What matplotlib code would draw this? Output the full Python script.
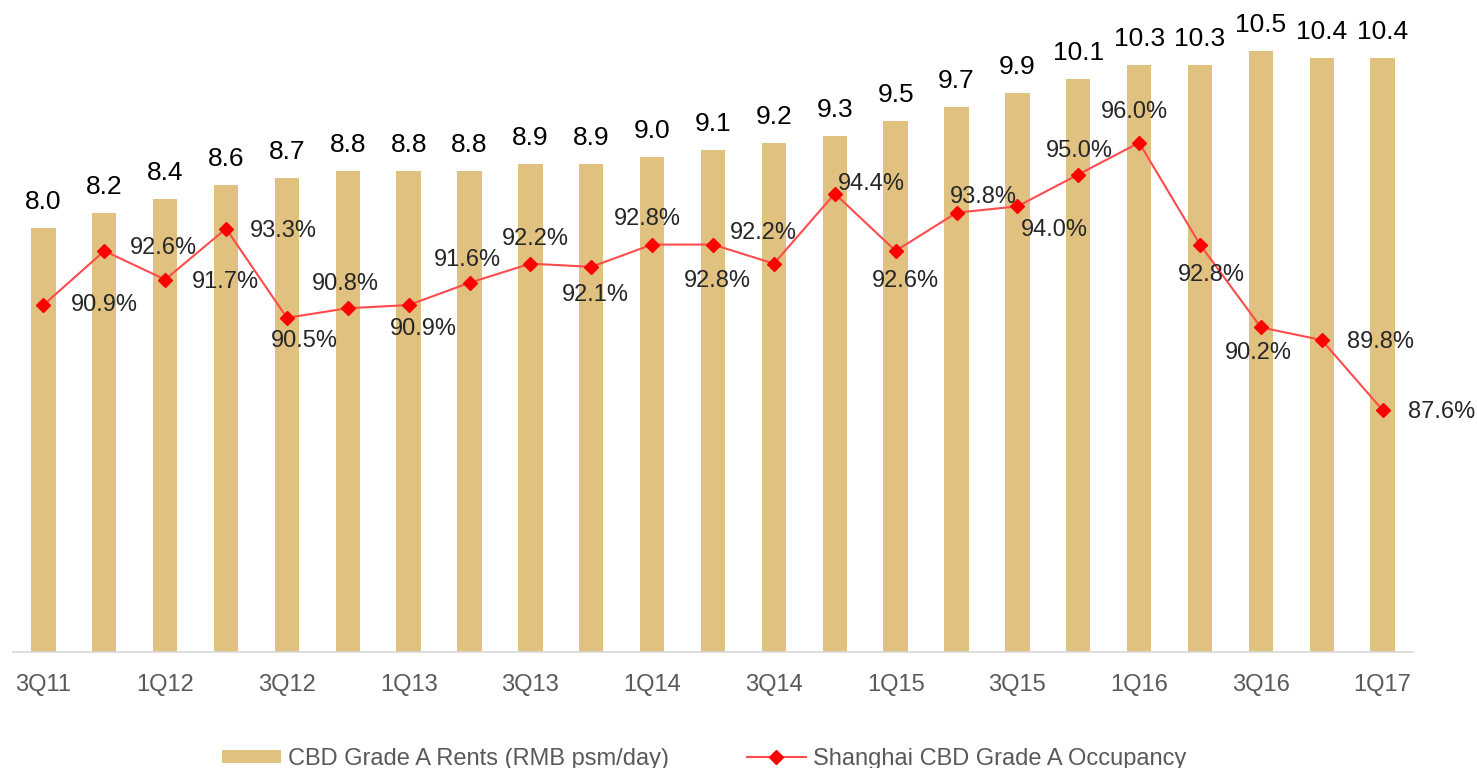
import matplotlib.pyplot as plt
import numpy as np

plt.rcParams['font.family'] = ['Liberation Sans', 'DejaVu Sans']

# quarters 3Q11 .. 1Q17
quarters = ["3Q11", "4Q11", "1Q12", "2Q12", "3Q12", "4Q12", "1Q13", "2Q13",
            "3Q13", "4Q13", "1Q14", "2Q14", "3Q14", "4Q14", "1Q15", "2Q15",
            "3Q15", "4Q15", "1Q16", "2Q16", "3Q16", "4Q16", "1Q17"]
rents = [8.0, 8.2, 8.4, 8.6, 8.7, 8.8, 8.8, 8.8, 8.9, 8.9, 9.0, 9.1,
         9.2, 9.3, 9.5, 9.7, 9.9, 10.1, 10.3, 10.3, 10.5, 10.4, 10.4]
occupancy = [90.9, 92.6, 91.7, 93.3, 90.5, 90.8, 90.9, 91.6, 92.2, 92.1, 92.8, 92.8,
             92.2, 94.4, 92.6, 93.8, 94.0, 95.0, 96.0, 92.8, 90.2, 89.8, 87.6]

# label offsets for the occupancy values (pixels, x right / y up)
pct_offsets = [(61, 0), (59, 3), (60, -2), (57, -2), (17, -23), (-2, 24),
               (15, -24), (-2, 23), (5, 25), (4, -28), (-5, 26), (4, -36),
               (-11, 31), (37, 10), (10, -30), (27, 16), (37, -24), (1, 24),
               (-5, 31), (11, -30), (-2, -26), (59, -2), (59, -2)]

bar_color = "#E0C17F"
x = np.arange(len(quarters))

fig = plt.figure(figsize=(14.77, 7.68), dpi=100)
ax = fig.add_axes([0.0088, 0.151, 0.9479, 0.829])
ax2 = ax.twinx()

bars = ax.bar(x, rents, width=0.4, color=bar_color, label="CBD Grade A Rents (RMB psm/day)")
for xi, v in zip(x, rents):
    ax.annotate(f"{v:.1f}", (xi, v), xytext=(0, 14), textcoords='offset pixels',
                ha='center', va='bottom', fontsize=19, color='black')

ax.set_ylim(2, 11)
ax.set_xlim(-0.5, len(quarters) - 0.5)
ax.set_yticks([])
ax.set_xticks(x[::2])
ax.set_xticklabels(quarters[::2], fontsize=17, color="#595959")
ax.tick_params(axis='x', length=0, pad=16)
for s in ['top', 'right', 'left']:
    ax.spines[s].set_visible(False)
ax.spines['bottom'].set_color("#D9D9D9")
ax.spines['bottom'].set_linewidth(1.2)

line, = ax2.plot(x, occupancy, color="#FF4B4B", linewidth=1.5, marker='D',
                 markersize=7, markerfacecolor="#FF0000", markeredgecolor="#FF0000",
                 label="Shanghai CBD Grade A Occupancy")
for xi, v, (dx, dy) in zip(x, occupancy, pct_offsets):
    ax2.annotate(f"{v:.1f}%", (xi, v), xytext=(dx, dy), textcoords='offset pixels',
                 ha='center', va='center', fontsize=17, color="#262626")
ax2.set_ylim(80, 100)
ax2.set_yticks([])
for s in ['top', 'right', 'left', 'bottom']:
    ax2.spines[s].set_visible(False)

leg = fig.legend([bars, line], [bars.get_label(), line.get_label()],
                 loc='center', bbox_to_anchor=(704 / 1477, 0.012), ncol=2,
                 frameon=False, fontsize=17, handlelength=2.5, handleheight=0.5,
                 columnspacing=3.3, handletextpad=0.3)
for t in leg.get_texts():
    t.set_color("#595959")

fig.savefig("out.png", dpi=100)
